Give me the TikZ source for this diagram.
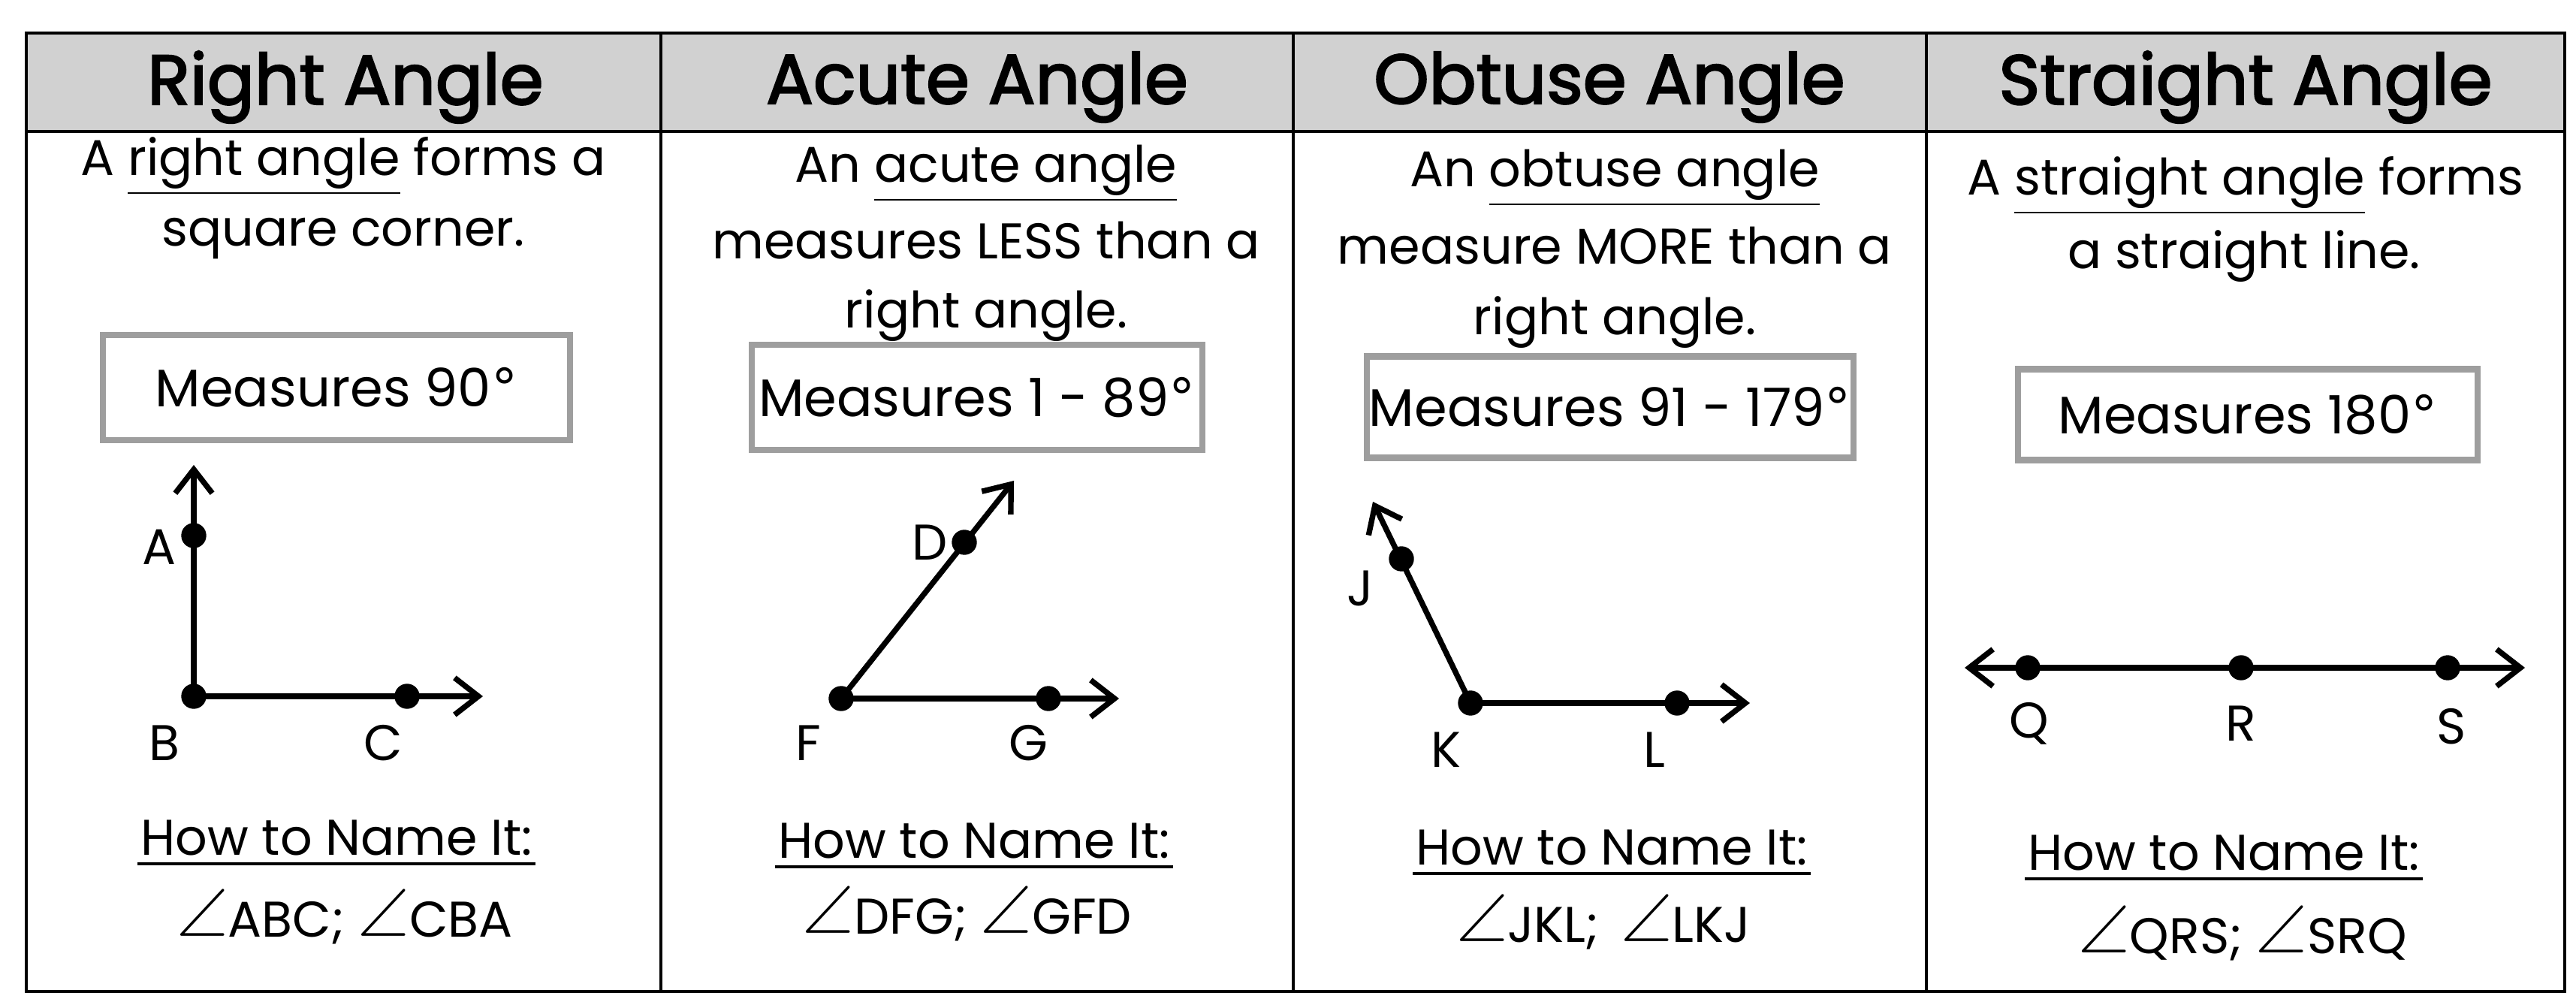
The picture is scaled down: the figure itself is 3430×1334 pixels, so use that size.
\documentclass[tikz,border=0pt]{standalone}
\usepackage{fontspec}
\setmainfont{Poppins}
\newfontfamily\symf{DejaVu Sans}
\newfontfamily\angf{latinmodern-math.otf}
\newfontfamily\titlef[FakeBold=2.5]{Poppins}
\usetikzlibrary{arrows.meta,calc}
\definecolor{hdrgray}{gray}{0.82}
\definecolor{boxgray}{gray}{0.62}
\newcommand{\ang}{{\angf\fontsize{25}{26}\selectfont\char"2220}}
\newcommand{\dg}{{\symf\char"00B0}}
\begin{document}
\begin{tikzpicture}[x=0.01cm,y=-0.01cm,
  title/.style={font=\titlef\fontsize{26.5}{32}\selectfont, inner sep=0pt},
  body/.style={font=\fontsize{19}{23}\selectfont, anchor=base, inner sep=0pt},
  lbl/.style={font=\fontsize{19}{23}\selectfont, inner sep=0pt},
  mbox/.style={draw=boxgray, line width=2.3pt, fill=white, font=\fontsize{20}{24}\selectfont, inner sep=0pt},
  dot/.style={circle, fill=black, inner sep=0pt, minimum size=9.5pt},
  ray/.style={line width=2.1pt, line cap=round, -{Straight Barb[length=9pt,width=14pt]}},
  dray/.style={line width=2.1pt, line cap=round, {Straight Barb[length=9pt,width=14pt]}-{Straight Barb[length=9pt,width=14pt]}},
  uline/.style={line width=1.1pt}
]
\useasboundingbox (0,0) rectangle (3430,1334);
\fill[white] (0,0) rectangle (3430,1334);
% table
\fill[hdrgray] (35,44) rectangle (3415,175);
\draw[line width=1.1pt] (35,175) -- (3415,175);
\foreach \xx in {880,1722,2565} \draw[line width=1pt] (\xx,44) -- (\xx,1320);
\draw[line width=1.2pt] (35,44) rectangle (3415,1320);

% titles
\node[title] (t1) at (460,116) {Right Angle};
\node[title] (t2) at (1301,116) {Acute Angle};
\node[title] (t3) at (2143,116) {Obtuse Angle};
\node[title] (t4) at (2990,116) {Straight Angle};

% descriptions
\node[body] (d11) at (457,234) {A \underline{right angle} forms a};
\node[body] (d12) at (457,328) {square corner.};
\node[body] (d21) at (1313,243) {An \underline{acute angle}};
\node[body] (d22) at (1313,345) {measures LESS than a};
\node[body] (d23) at (1313,437) {right angle.};
\node[body] (d31) at (2150,249) {An \underline{obtuse angle}};
\node[body] (d32) at (2150,352) {measure MORE than a};
\node[body] (d33) at (2150,446) {right angle.};
\node[body] (d41) at (2990,260) {A \underline{straight angle} forms};
\node[body] (d42) at (2988,358) {a straight line.};

% measure boxes
\node[mbox, minimum width=6.21cm, minimum height=1.40cm] (m1) at (448,516) {Measures 90\dg};
\node[mbox, minimum width=5.99cm, minimum height=1.40cm] (m2) at (1301,529) {Measures 1 - 89\dg};
\node[mbox, minimum width=6.48cm, minimum height=1.35cm] (m3) at (2144,542) {Measures 91 - 179\dg};
\node[mbox, minimum width=6.11cm, minimum height=1.21cm] (m4) at (2993,552) {Measures 180\dg};

% right angle
\node[dot] (A) at (258,713) {};
\node[dot] (B) at (258,927) {};
\node[dot] (C) at (542,927) {};
\coordinate (Aend) at (258,619);
\coordinate (Cend) at (643,927);
\draw[ray] (B.center) -- (Aend);
\draw[ray] (B.center) -- (Cend);
\node[lbl] (lA) at (212,728) {A};
\node[lbl] (lB) at (219,989) {B};
\node[lbl] (lC) at (510,989) {C};

% acute angle
\node[dot] (F) at (1120,930) {};
\node[dot] (G) at (1396,930) {};
\node[dot] (D) at (1284,722) {};
\coordinate (Dend) at (1350,640);
\coordinate (Gend) at (1490,930);
\draw[ray] (F.center) -- (Dend);
\draw[ray] (F.center) -- (Gend);
\node[lbl] (lD) at (1238,722) {D};
\node[lbl] (lF) at (1076,989) {F};
\node[lbl] (lG) at (1369,989) {G};

% obtuse angle
\node[dot] (K) at (1958,936) {};
\node[dot] (L) at (2233,936) {};
\node[dot] (J) at (1866,744) {};
\coordinate (Jend) at (1828,668);
\coordinate (Lend) at (2330,936);
\draw[ray] (K.center) -- (Jend);
\draw[ray] (K.center) -- (Lend);
\node[lbl] (lJ) at (1811,783) {J};
\node[lbl] (lK) at (1925,998) {K};
\node[lbl] (lL) at (2203,998) {L};

% straight angle
\node[dot] (Q) at (2700,889) {};
\node[dot] (R) at (2984,889) {};
\node[dot] (S) at (3259,889) {};
\coordinate (Qend) at (2616,889);
\coordinate (Send) at (3362,889);
\draw[dray] (Qend) -- (Send);
\node[lbl] (lQ) at (2702,963) {Q};
\node[lbl] (lR) at (2984,963) {R};
\node[lbl] (lS) at (3264,967) {S};

% how to name it
\node[body] (h1) at (448,1138) {How to Name It:};
\node[body] (h2) at (1297,1142) {How to Name It:};
\node[body] (h3) at (2146,1151) {How to Name It:};
\node[body] (h4) at (2961,1158) {How to Name It:};
\foreach \n in {h1,h2,h3,h4}
  \draw[uline] ($(\n.base west)+(-3,12)$) -- ($(\n.base east)+(3,12)$);

% angle names
\node[body] (n1) at (459,1247) {\ang ABC; \ang CBA};
\node[body] (n2) at (1288,1243) {\ang DFG; \ang GFD};
\node[body] (n3) at (2135,1254) {\ang JKL;\, \ang LKJ};
\node[body] (n4) at (2986,1269) {\ang QRS; \ang SRQ};
\end{tikzpicture}
\end{document}
